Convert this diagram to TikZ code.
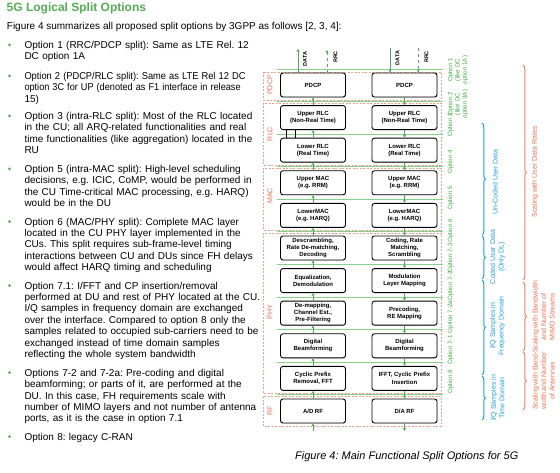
\documentclass[tikz,border=0pt]{standalone}
\usepackage{fontspec}
\usepackage{graphicx}
\setmainfont{Liberation Sans}
\frenchspacing
\usetikzlibrary{arrows.meta,decorations.pathreplacing,shadows}
\definecolor{titlegreen}{RGB}{84,172,84}
\definecolor{dotgreen}{RGB}{90,170,90}
\definecolor{regred}{RGB}{240,160,140}
\definecolor{laytext}{RGB}{235,105,75}
\definecolor{splitgreen}{RGB}{140,205,140}
\definecolor{arrgreen}{RGB}{80,170,80}
\definecolor{optgreen}{RGB}{70,170,70}
\definecolor{bbrace}{RGB}{30,160,215}
\definecolor{rbrace}{RGB}{242,125,105}
\definecolor{rtext}{RGB}{238,110,80}
\begin{document}
\begin{tikzpicture}[x=1pt,y=-1pt,
  item/.style={anchor=base west, text width=260pt, align=left, inner sep=0pt, font=\fontsize{10}{11.4}\selectfont\frenchspacing},
  blk/.style={draw=black, line width=0.9pt, rounded corners=2.5pt, fill=white,
    drop shadow={shadow xshift=0.6pt,shadow yshift=-0.6pt,fill=black!30},
    minimum width=65pt, minimum height=24pt, inner sep=0.5pt, align=center,
    font=\fontsize{6}{7.2}\selectfont\bfseries},
  region/.style={draw=regred, dash pattern=on 2pt off 1.5pt, line width=0.5pt},
  layerlbl/.style={rotate=90, text=laytext, font=\fontsize{7}{8}\selectfont, inner sep=0pt},
  splitline/.style={draw=splitgreen, line width=0.6pt},
  garrow/.style={draw=arrgreen, line width=0.7pt, -{Stealth[length=3pt,width=3pt]}},
  toplbl/.style={rotate=90, font=\fontsize{5.5}{6.5}\selectfont\bfseries, inner sep=0pt},
  optlbl/.style={rotate=90, text=optgreen, font=\fontsize{6.2}{7.3}\selectfont, align=center, inner sep=0pt},
  bbr/.style={draw=bbrace, line width=1pt, decorate, decoration={brace, amplitude=3.5pt}},
  rbr/.style={draw=rbrace, line width=1pt, decorate, decoration={brace, amplitude=3.5pt}},
  blbl/.style={rotate=90, text=bbrace, font=\fontsize{7}{8.5}\selectfont, align=center, inner sep=0pt},
  rlbl/.style={rotate=90, text=rtext, font=\fontsize{7}{8.5}\selectfont, align=center, inner sep=0pt}
]
\useasboundingbox (0,0) rectangle (560,473);

% ---------- left text ----------
\node[anchor=base west, inner sep=0pt, text=titlegreen, font=\fontsize{12}{14}\selectfont\bfseries] (title) at (6.5,12) {5G Logical Split Options};
\node[anchor=base west, inner sep=0pt, font=\fontsize{10}{11.4}\selectfont] (intro) at (6.7,29.5) {Figure 4 summarizes all proposed split options by 3GPP as follows [2, 3, 4]:};

\foreach \yy in {45,76,116,169,221.7,285.7,372.7,436.7} \fill[dotgreen] (9.5,\yy) circle (1.5);

\node[item] (b1) at (24.3,48.5) {Option 1 (RRC/PDCP split): Same as LTE Rel. 12\\DC option 1A};
\node[item] (b2) at (24.3,79.5) {\scalebox{0.93}[1]{Option 2 (PDCP/RLC split): Same as LTE Rel 12 DC}\\\scalebox{0.915}[1]{option 3C for UP (denoted as F1 interface in release}\\15)};
\node[item] (b3) at (24.3,119.5) {Option 3 (intra-RLC split): Most of the RLC located\\in the CU; all ARQ-related functionalities and real\\time functionalities (like aggregation) located in the\\RU};
\node[item] (b5) at (24.3,172.5) {Option 5 (intra-MAC split): High-level scheduling\\decisions, e.g. ICIC, CoMP, would be performed in\\the CU Time-critical MAC processing, e.g. HARQ)\\would be in the DU};
\node[item] (b6) at (24.3,225.2) {Option 6 (MAC/PHY split): Complete MAC layer\\located in the CU PHY layer implemented in the\\CUs. This split requires sub-frame-level timing\\interactions between CU and DUs since FH delays\\would affect HARQ timing and scheduling};
\node[item] (b71) at (24.3,289.2) {Option 7.1: I/FFT and CP insertion/removal\\performed at DU and rest of PHY located at the CU.\\I/Q samples in frequency domain are exchanged\\over the interface. Compared to option 8 only the\\samples related to occupied sub-carriers need to be\\exchanged instead of time domain samples\\reflecting the whole system bandwidth};
\node[item] (b72) at (24.3,376.2) {Options 7-2 and 7-2a: Pre-coding and digital\\beamforming; or parts of it, are performed at the\\DU. In this case, FH requirements scale with\\number of MIMO layers and not number of antenna\\ports, as it is the case in option 7.1};
\node[item] (b8) at (24.3,440.2) {Option 8: legacy C-RAN};

% ---------- layer regions ----------
\draw[region] (263,72) rectangle (441,100);
\draw[region] (263,103) rectangle (441,165);
\draw[region] (263,168) rectangle (441,230);
\draw[region] (263,233) rectangle (441,393);
\draw[region] (263,396) rectangle (441,426);
\node[layerlbl] (lpdcp) at (270,85) {PDCP};
\node[layerlbl] (lrlc) at (270,134) {RLC};
\node[layerlbl] (lmac) at (270,196) {MAC};
\node[layerlbl] (lphy) at (270,312) {PHY};
\node[layerlbl] (lrf) at (270,411) {RF};

% ---------- split lines ----------
\draw[splitline] (277,69.5) -- (443,69.5);
\foreach \k in {0,...,9} \draw[splitline] (277,{101.3+32.6*\k}) -- (443,{101.3+32.6*\k});

% ---------- blocks ----------
\node[blk] (l0) at (313,85) {PDCP};
\node[blk] (l1) at (313,117.6) {Upper RLC\\(Non-Real Time)};
\node[blk] (l2) at (313,150.2) {Lower RLC\\(Real Time)};
\node[blk] (l3) at (313,182.8) {Upper MAC\\(e.g. RRM)};
\node[blk] (l4) at (313,215.4) {LowerMAC\\(e.g. HARQ)};
\node[blk] (l5) at (313,248) {Descrambling,\\Rate De-matching,\\Decoding};
\node[blk] (l6) at (313,280.6) {Equalization,\\Demodulation};
\node[blk] (l7) at (313,313.2) {De-mapping,\\Channel Est.,\\Pre-Filtering};
\node[blk] (l8) at (313,345.8) {Digital\\Beamforming};
\node[blk] (l9) at (313,378.4) {Cyclic Prefix\\Removal, FFT};
\node[blk] (l10) at (313,411) {A/D RF};

\node[blk] (r0) at (404.5,85) {PDCP};
\node[blk] (r1) at (404.5,117.6) {Upper RLC\\(Non-Real Time)};
\node[blk] (r2) at (404.5,150.2) {Lower RLC\\(Real Time)};
\node[blk] (r3) at (404.5,182.8) {Upper MAC\\(e.g. RRM)};
\node[blk] (r4) at (404.5,215.4) {LowerMAC\\(e.g. HARQ)};
\node[blk] (r5) at (404.5,248) {Coding, Rate\\Matching,\\Scrambling};
\node[blk] (r6) at (404.5,280.6) {Modulation\\Layer Mapping};
\node[blk] (r7) at (404.5,313.2) {Precoding,\\RE Mapping};
\node[blk] (r8) at (404.5,345.8) {Digital\\Beamforming};
\node[blk] (r9) at (404.5,378.4) {IFFT, Cyclic Prefix\\Insertion};
\node[blk] (r10) at (404.5,411) {D/A RF};

% arrows between blocks
\foreach \a/\b in {0/1,1/2,2/3,3/4,4/5,5/6,6/7,7/8,8/9,9/10}{
  \draw[garrow] (l\b.north) -- (l\a.south);
  \draw[garrow] (r\a.south) -- (r\b.north);
}
\coordinate (lbot) at (313,431);
\coordinate (rbot) at (404.5,431);
\draw[garrow] (lbot) -- (l10.south);
\draw[garrow] (r10.south) -- (rbot);

% black lines between upper and lower RLC (left)
\coordinate (bk1) at (286,0);
\coordinate (bk2) at (295,0);
\draw[black, line width=0.8pt] (l1.south -| bk1) -- (l2.north -| bk1);
\draw[black, line width=0.8pt] (l1.south -| bk2) -- (l2.north -| bk2);

% top DATA / RRC arrows
\coordinate (ldata) at (298,49);
\coordinate (lrrc) at (327,50);
\coordinate (rdata) at (390,48);
\coordinate (rrrc) at (418.3,48);
\draw[garrow] (l0.north -| ldata) -- (ldata);
\draw[garrow, dashed] (l0.north -| lrrc) -- (lrrc);
\draw[garrow] (rdata) -- (r0.north -| rdata);
\draw[garrow, dashed] (rrrc) -- (r0.north -| rrrc);
\node[toplbl] (tld) at (305,59) {DATA};
\node[toplbl] (tlr) at (335.5,57) {RRC};
\node[toplbl] (trd) at (397.5,58) {DATA};
\node[toplbl] (trr) at (426.5,57) {RRC};

% ---------- option labels ----------
\node[optlbl] (o1) at (458,70) {Option 1\\(like DC\\option 1A)};
\node[optlbl] (o2) at (458,104) {Option 2\\(like DC\\option 3A)};
\node[optlbl] (o3) at (450.5,125) {Option 3};
\node[optlbl] (o4) at (450.5,162) {Option 4};
\node[optlbl] (o5) at (450.5,198) {Option 5};
\node[optlbl] (o6) at (450.5,231) {Option 6};
\node[optlbl] (o73) at (450.5,258) {Option 7-3};
\node[optlbl] (o72) at (450.5,286) {Option 7-2};
\node[optlbl] (o72a) at (450.5,317) {Option 7-2a};
\node[optlbl] (o71) at (450.5,350) {Option 7-1};
\node[optlbl] (o8) at (450.5,382) {Option 8};

% ---------- blue braces ----------
\draw[bbr] (482,123) -- (482,235);
\draw[bbr] (482,236) -- (482,279);
\draw[bbr] (482,280) -- (482,375);
\draw[bbr] (482,376) -- (482,420);
\node[blbl] (bu) at (495,182) {Un-Coded User Data};
\node[blbl] (bc) at (497.5,257) {Coded User Data\\(Only DL)};
\node[blbl] (bf) at (497.5,326) {I/Q Samples in\\Frequency Domain};
\node[blbl] (bt) at (497.5,398) {I/Q Samples in\\Time Domain};

% ---------- red braces ----------
\draw[rbr] (523,65) -- (523,280);
\draw[rbr] (523,282) -- (523,351);
\draw[rbr] (523,352) -- (523,410);
\node[rlbl] (ru) at (535,172) {Scaling with User Data Rates};
\node[rlbl] (rm) at (543.5,317) {Scaling with Bandwidth\\and Number of\\MIMO Streams};
\node[rlbl] (ra) at (543.5,381) {Scaling with Band-\\width and Number\\of Antennas};

% ---------- caption ----------
\node[anchor=base west, inner sep=0pt, font=\fontsize{11}{13}\selectfont\itshape] (cap) at (295,459) {Figure 4: Main Functional Split Options for 5G};
\end{tikzpicture}
\end{document}
